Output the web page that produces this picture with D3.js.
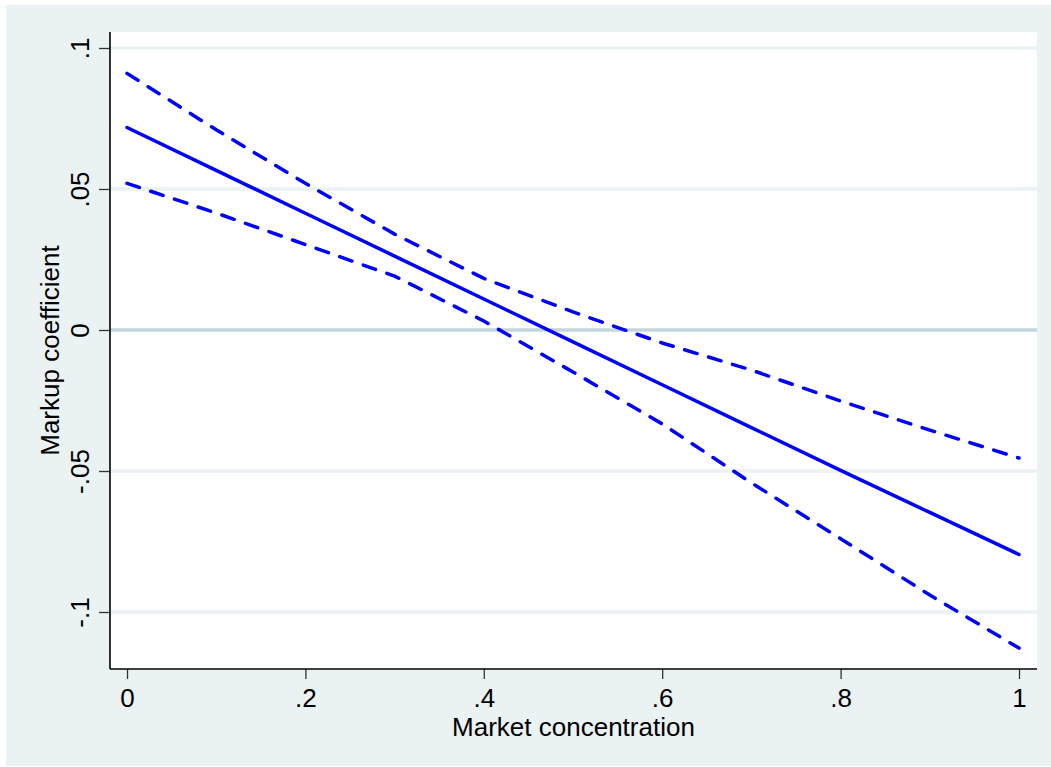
<!DOCTYPE html>
<html lang="en">
<head>
<meta charset="UTF-8">
<title>Markup coefficient</title>
<script src="https://d3js.org/d3.v7.min.js"></script>
<style>
    body { margin: 0; background: #fff; }
    text { font-family: "Liberation Sans", Arial, sans-serif; fill: #000; }
</style>
</head>
<body>
<div id="chart"></div>
<script>

    // values, at x = 0, .1, ..., 1
    var conc = [0, 0.1, 0.2, 0.3, 0.4, 0.5, 0.6, 0.7, 0.8, 0.9, 1];
    var coef = [0.0718, 0.0566, 0.0414, 0.0262, 0.0110, -0.0042, -0.0194, -0.0346, -0.0498, -0.0647, -0.0796];
    var upper = [0.0910, 0.0710, 0.0520, 0.0340, 0.0183, 0.0064, -0.0046, -0.0142, -0.0252, -0.0355, -0.0454];
    var lower = [0.0520, 0.0415, 0.0303, 0.0191, 0.0032, -0.0149, -0.0333, -0.0542, -0.0740, -0.0940, -0.1128];

    var xTicks = [0, 0.2, 0.4, 0.6, 0.8, 1];
    var xTickLabels = ["0", ".2", ".4", ".6", ".8", "1"];
    var yTicks = [-0.1, -0.05, 0, 0.05, 0.1];
    var yTickLabels = ["-.1", "-.05", "0", ".05", ".1"];

    var w = 1051, h = 767;
    // plot region edges (note: "top" would clash with window.top)
    var pL = 110, pR = 1037, pT = 32, pB = 669;

    var svg = d3.select("#chart")
        .append("svg")
        .attr("width", w)
        .attr("height", h);

    // outer graph region
    svg.append("rect")
        .attr("x", 6).attr("y", 5)
        .attr("width", w - 6).attr("height", h - 6)
        .attr("fill", "#eaf2f3");

    // plot region
    svg.append("rect")
        .attr("x", pL).attr("y", pT)
        .attr("width", pR - pL).attr("height", pB - pT)
        .attr("fill", "#ffffff");

    var x = d3.scaleLinear().domain([0, 1]).range([127, 1019]);
    var y = d3.scaleLinear().domain([-0.1, 0.1]).range([612, 48]);

    // grid lines
    svg.selectAll(".grid")
        .data(yTicks)
        .enter()
        .append("line")
        .attr("class", "grid")
        .attr("x1", pL).attr("x2", pR)
        .attr("y1", d => y(d)).attr("y2", d => y(d))
        .attr("stroke", d => d === 0 ? "#c6d5dd" : "#eaf2f3")
        .attr("stroke-width", 3.5);

    // y axis
    var yAxis = d3.axisLeft(y)
        .tickValues(yTicks)
        .tickFormat((d, i) => yTickLabels[i])
        .tickSize(11)
        .tickSizeOuter(0);

    var gy = svg.append("g")
        .attr("transform", "translate(" + pL + ",0)")
        .call(yAxis);
    gy.select(".domain").remove();
    gy.selectAll(".tick line").attr("stroke", "#333").attr("stroke-width", 1.3);
    gy.selectAll(".tick text")
        .attr("x", 0).attr("dy", 0)
        .attr("transform", "translate(-21,0) rotate(-90)")
        .attr("text-anchor", "middle")
        .style("font-size", "26px")
        .style("font-family", "'Liberation Sans', Arial, sans-serif");

    svg.append("line")
        .attr("x1", pL).attr("x2", pL)
        .attr("y1", pT).attr("y2", pB)
        .attr("stroke", "#000").attr("stroke-width", 1.6);

    // x axis
    var xAxis = d3.axisBottom(x)
        .tickValues(xTicks)
        .tickFormat((d, i) => xTickLabels[i])
        .tickSize(10)
        .tickSizeOuter(0);

    var gx = svg.append("g")
        .attr("transform", "translate(0," + pB + ")")
        .call(xAxis);
    gx.select(".domain").remove();
    gx.selectAll(".tick line").attr("stroke", "#333").attr("stroke-width", 1.3);
    gx.selectAll(".tick text")
        .attr("y", 38).attr("dy", 0)
        .style("font-size", "26px")
        .style("font-family", "'Liberation Sans', Arial, sans-serif");

    svg.append("line")
        .attr("x1", pL).attr("x2", pR)
        .attr("y1", pB).attr("y2", pB)
        .attr("stroke", "#000").attr("stroke-width", 1.6);

    // axis titles
    svg.append("text")
        .attr("x", (pL + pR) / 2)
        .attr("y", 736)
        .attr("text-anchor", "middle")
        .style("font-size", "26px")
        .text("Market concentration");

    svg.append("text")
        .attr("transform", "translate(59," + ((pT + pB) / 2) + ") rotate(-90)")
        .attr("text-anchor", "middle")
        .style("font-size", "26px")
        .text("Markup coefficient");

    // lines
    var line = d3.line()
        .x((d, i) => x(conc[i]))
        .y(d => y(d));

    svg.append("path")
        .datum(upper)
        .attr("d", line)
        .attr("fill", "none")
        .attr("stroke", "#0000ff")
        .attr("stroke-width", 3.5)
        .attr("stroke-linecap", "round")
        .attr("stroke-dasharray", "13,12");

    svg.append("path")
        .datum(lower)
        .attr("d", line)
        .attr("fill", "none")
        .attr("stroke", "#0000ff")
        .attr("stroke-width", 3.5)
        .attr("stroke-linecap", "round")
        .attr("stroke-dasharray", "13,12");

    svg.append("path")
        .datum(coef)
        .attr("d", line)
        .attr("fill", "none")
        .attr("stroke", "#0000ff")
        .attr("stroke-width", 3.5)
        .attr("stroke-linecap", "round");

</script>
</body>
</html>
